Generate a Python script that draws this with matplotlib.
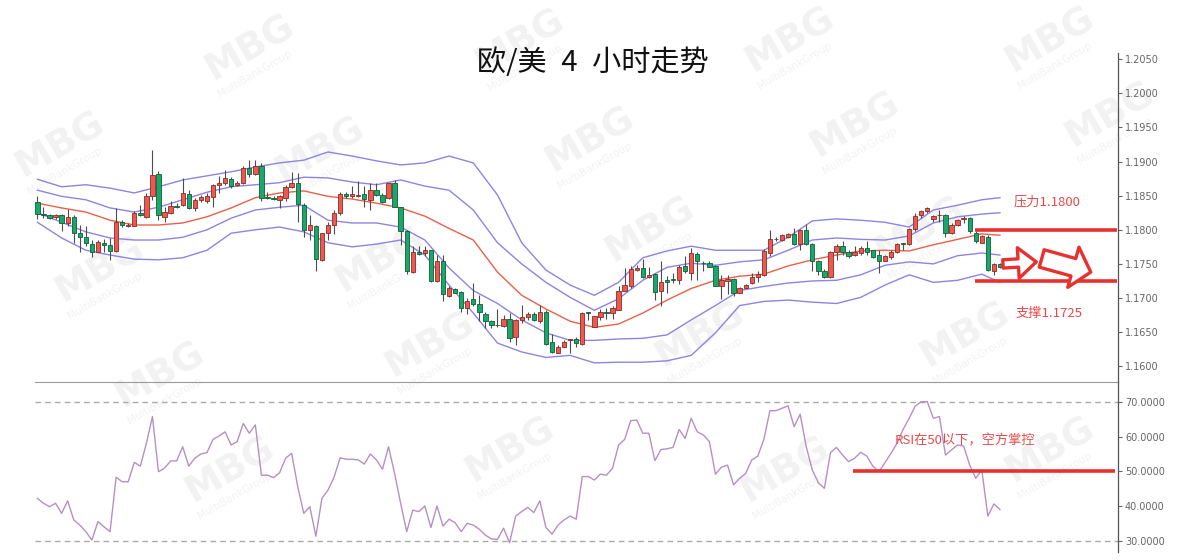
import numpy as np
import matplotlib
matplotlib.use("Agg")
import matplotlib.pyplot as plt

plt.rcParams['font.family'] = ['Noto Sans CJK SC', 'DejaVu Sans']

# EUR/USD 4h candles (open, high, low, close)
opens = [1.1840, 1.1823, 1.1821, 1.1819, 1.1821, 1.1810, 1.1819, 1.1796, 1.1790, 1.1779,
         1.1768, 1.1781, 1.1777, 1.1769, 1.1812, 1.1805, 1.1806, 1.1825, 1.1819, 1.1850,
         1.1881, 1.1819, 1.1825, 1.1835, 1.1836, 1.1853, 1.1832, 1.1843, 1.1842, 1.1848,
         1.1865, 1.1868, 1.1874, 1.1865, 1.1868, 1.1890, 1.1881, 1.1893, 1.1848, 1.1847,
         1.1844, 1.1846, 1.1863, 1.1869, 1.1837, 1.1799, 1.1806, 1.1756, 1.1796, 1.1807,
         1.1824, 1.1853, 1.1849, 1.1850, 1.1852, 1.1844, 1.1859, 1.1851, 1.1846, 1.1868,
         1.1833, 1.1798, 1.1738, 1.1767, 1.1766, 1.1771, 1.1725, 1.1754, 1.1703, 1.1713,
         1.1709, 1.1685, 1.1698, 1.1692, 1.1677, 1.1667, 1.1661, 1.1659, 1.1669, 1.1643,
         1.1668, 1.1672, 1.1677, 1.1666, 1.1680, 1.1635, 1.1620, 1.1629, 1.1639, 1.1640,
         1.1633, 1.1679, 1.1657, 1.1672, 1.1680, 1.1678, 1.1683, 1.1711, 1.1718, 1.1741,
         1.1744, 1.1731, 1.1735, 1.1710, 1.1727, 1.1728, 1.1727, 1.1747, 1.1737, 1.1765,
         1.1752, 1.1751, 1.1747, 1.1718, 1.1725, 1.1728, 1.1708, 1.1715, 1.1722, 1.1731,
         1.1734, 1.1766, 1.1787, 1.1785, 1.1790, 1.1794, 1.1779, 1.1799, 1.1779, 1.1754,
         1.1740, 1.1731, 1.1768, 1.1776, 1.1768, 1.1763, 1.1766, 1.1773, 1.1770, 1.1763,
         1.1755, 1.1760, 1.1767, 1.1780, 1.1779, 1.1801, 1.1821, 1.1828, 1.1816, 1.1821,
         1.1822, 1.1796, 1.1807, 1.1816, 1.1817, 1.1796, 1.1781, 1.1790, 1.1739, 1.1750]
highs = [1.1849, 1.1834, 1.1823, 1.1823, 1.1823, 1.1831, 1.1822, 1.1807, 1.1806, 1.1785,
         1.1785, 1.1786, 1.1788, 1.1832, 1.1815, 1.1810, 1.1827, 1.1837, 1.1854, 1.1917,
         1.1886, 1.1834, 1.1842, 1.1839, 1.1876, 1.1858, 1.1846, 1.1851, 1.1854, 1.1867,
         1.1879, 1.1888, 1.1877, 1.1871, 1.1894, 1.1902, 1.1902, 1.1898, 1.1856, 1.1850,
         1.1851, 1.1865, 1.1885, 1.1883, 1.1839, 1.1822, 1.1807, 1.1796, 1.1812, 1.1829,
         1.1855, 1.1856, 1.1864, 1.1871, 1.1864, 1.1869, 1.1868, 1.1854, 1.1869, 1.1873,
         1.1834, 1.1800, 1.1776, 1.1776, 1.1776, 1.1771, 1.1763, 1.1763, 1.1718, 1.1714,
         1.1710, 1.1700, 1.1722, 1.1705, 1.1680, 1.1668, 1.1684, 1.1675, 1.1678, 1.1669,
         1.1690, 1.1679, 1.1679, 1.1690, 1.1683, 1.1648, 1.1631, 1.1638, 1.1640, 1.1643,
         1.1679, 1.1680, 1.1674, 1.1684, 1.1685, 1.1688, 1.1717, 1.1744, 1.1747, 1.1749,
         1.1757, 1.1746, 1.1737, 1.1755, 1.1732, 1.1736, 1.1749, 1.1761, 1.1773, 1.1767,
         1.1754, 1.1755, 1.1749, 1.1734, 1.1734, 1.1729, 1.1716, 1.1720, 1.1737, 1.1739,
         1.1772, 1.1799, 1.1790, 1.1794, 1.1795, 1.1802, 1.1801, 1.1809, 1.1780, 1.1756,
         1.1742, 1.1769, 1.1779, 1.1783, 1.1771, 1.1776, 1.1776, 1.1783, 1.1771, 1.1771,
         1.1763, 1.1771, 1.1780, 1.1781, 1.1802, 1.1825, 1.1829, 1.1834, 1.1822, 1.1829,
         1.1823, 1.1810, 1.1816, 1.1820, 1.1819, 1.1798, 1.1793, 1.1793, 1.1752, 1.1751]
lows = [1.1816, 1.1817, 1.1816, 1.1816, 1.1798, 1.1806, 1.1780, 1.1768, 1.1776, 1.1760,
        1.1767, 1.1768, 1.1756, 1.1768, 1.1804, 1.1804, 1.1805, 1.1820, 1.1817, 1.1843,
        1.1815, 1.1812, 1.1823, 1.1832, 1.1835, 1.1830, 1.1828, 1.1841, 1.1839, 1.1834,
        1.1854, 1.1865, 1.1861, 1.1864, 1.1867, 1.1878, 1.1880, 1.1842, 1.1845, 1.1844,
        1.1832, 1.1842, 1.1861, 1.1812, 1.1790, 1.1785, 1.1740, 1.1755, 1.1785, 1.1794,
        1.1822, 1.1846, 1.1846, 1.1848, 1.1834, 1.1829, 1.1849, 1.1839, 1.1845, 1.1833,
        1.1778, 1.1735, 1.1736, 1.1763, 1.1761, 1.1724, 1.1724, 1.1695, 1.1702, 1.1707,
        1.1679, 1.1677, 1.1688, 1.1666, 1.1656, 1.1656, 1.1658, 1.1658, 1.1636, 1.1631,
        1.1663, 1.1668, 1.1667, 1.1664, 1.1631, 1.1619, 1.1619, 1.1628, 1.1619, 1.1629,
        1.1631, 1.1668, 1.1657, 1.1668, 1.1670, 1.1670, 1.1682, 1.1710, 1.1714, 1.1740,
        1.1730, 1.1730, 1.1697, 1.1689, 1.1708, 1.1722, 1.1721, 1.1736, 1.1727, 1.1727,
        1.1739, 1.1745, 1.1717, 1.1698, 1.1706, 1.1703, 1.1707, 1.1714, 1.1721, 1.1723,
        1.1733, 1.1761, 1.1783, 1.1783, 1.1788, 1.1778, 1.1770, 1.1778, 1.1739, 1.1734,
        1.1730, 1.1729, 1.1756, 1.1763, 1.1758, 1.1761, 1.1763, 1.1763, 1.1758, 1.1736,
        1.1754, 1.1757, 1.1766, 1.1771, 1.1778, 1.1798, 1.1817, 1.1825, 1.1812, 1.1812,
        1.1790, 1.1794, 1.1806, 1.1810, 1.1795, 1.1780, 1.1780, 1.1740, 1.1734, 1.1744]
closes = [1.1823, 1.1821, 1.1818, 1.1822, 1.1810, 1.1819, 1.1796, 1.1789, 1.1780, 1.1768,
          1.1782, 1.1777, 1.1769, 1.1811, 1.1807, 1.1807, 1.1824, 1.1821, 1.1849, 1.1880,
          1.1821, 1.1826, 1.1835, 1.1834, 1.1854, 1.1832, 1.1844, 1.1848, 1.1850, 1.1865,
          1.1869, 1.1876, 1.1864, 1.1869, 1.1891, 1.1882, 1.1894, 1.1846, 1.1846, 1.1845,
          1.1850, 1.1863, 1.1868, 1.1838, 1.1800, 1.1807, 1.1757, 1.1795, 1.1807, 1.1824,
          1.1853, 1.1850, 1.1852, 1.1851, 1.1845, 1.1858, 1.1851, 1.1840, 1.1868, 1.1834,
          1.1798, 1.1740, 1.1767, 1.1764, 1.1771, 1.1725, 1.1755, 1.1706, 1.1714, 1.1708,
          1.1685, 1.1696, 1.1691, 1.1680, 1.1666, 1.1660, 1.1660, 1.1669, 1.1641, 1.1668,
          1.1672, 1.1677, 1.1668, 1.1680, 1.1633, 1.1621, 1.1629, 1.1635, 1.1640, 1.1634,
          1.1678, 1.1678, 1.1674, 1.1680, 1.1678, 1.1685, 1.1711, 1.1719, 1.1742, 1.1744,
          1.1731, 1.1734, 1.1709, 1.1724, 1.1723, 1.1726, 1.1746, 1.1739, 1.1766, 1.1754,
          1.1751, 1.1746, 1.1718, 1.1727, 1.1728, 1.1708, 1.1714, 1.1719, 1.1731, 1.1735,
          1.1769, 1.1787, 1.1786, 1.1792, 1.1794, 1.1779, 1.1799, 1.1779, 1.1754, 1.1740,
          1.1731, 1.1768, 1.1776, 1.1768, 1.1761, 1.1768, 1.1773, 1.1768, 1.1760, 1.1754,
          1.1761, 1.1768, 1.1779, 1.1779, 1.1801, 1.1820, 1.1828, 1.1832, 1.1820, 1.1822,
          1.1796, 1.1807, 1.1815, 1.1817, 1.1798, 1.1783, 1.1791, 1.1741, 1.1750, 1.1745]

# band lines, read at every 4th candle
band_idx = [0, 4, 8, 12, 16, 20, 24, 28, 32, 36, 40, 44, 48, 52, 56, 60, 64, 68, 72, 76,
            80, 84, 88, 92, 96, 100, 104, 108, 112, 116, 120, 124, 128, 132, 136, 140, 144,
            148, 152, 156, 159]
upper_outer = [1.1874, 1.1863, 1.1866, 1.1861, 1.1854, 1.1863, 1.1873, 1.1879, 1.1885, 1.1892,
               1.1898, 1.1902, 1.1914, 1.1908, 1.1901, 1.1895, 1.1898, 1.1908, 1.1898, 1.1851,
               1.1781, 1.1741, 1.1719, 1.1704, 1.1723, 1.1759, 1.1769, 1.1776, 1.1770, 1.1770,
               1.1770, 1.1789, 1.1813, 1.1816, 1.1814, 1.1811, 1.1804, 1.1829, 1.1836, 1.1844,
               1.1847]
upper_inner = [1.1858, 1.1849, 1.1844, 1.1832, 1.1826, 1.1833, 1.1844, 1.1855, 1.1863, 1.1866,
               1.1869, 1.1877, 1.1876, 1.1870, 1.1866, 1.1873, 1.1864, 1.1858, 1.1829, 1.1781,
               1.1750, 1.1723, 1.1701, 1.1682, 1.1699, 1.1726, 1.1745, 1.1751, 1.1748, 1.1753,
               1.1756, 1.1770, 1.1785, 1.1788, 1.1786, 1.1785, 1.1791, 1.1810, 1.1819, 1.1823,
               1.1825]
middle = [1.1839, 1.1832, 1.1826, 1.1814, 1.1807, 1.1807, 1.1810, 1.1819, 1.1832, 1.1847,
          1.1854, 1.1857, 1.1849, 1.1845, 1.1839, 1.1832, 1.1820, 1.1802, 1.1785, 1.1738,
          1.1704, 1.1684, 1.1666, 1.1657, 1.1662, 1.1678, 1.1697, 1.1714, 1.1726, 1.1732,
          1.1735, 1.1747, 1.1756, 1.1763, 1.1769, 1.1770, 1.1769, 1.1778, 1.1786, 1.1794,
          1.1792]
lower_inner = [1.1825, 1.1811, 1.1797, 1.1788, 1.1785, 1.1785, 1.1789, 1.1800, 1.1817, 1.1829,
               1.1833, 1.1836, 1.1814, 1.1810, 1.1810, 1.1804, 1.1785, 1.1744, 1.1711, 1.1692,
               1.1668, 1.1649, 1.1638, 1.1638, 1.1640, 1.1641, 1.1646, 1.1668, 1.1689, 1.1711,
               1.1717, 1.1722, 1.1725, 1.1726, 1.1734, 1.1748, 1.1753, 1.1750, 1.1762, 1.1766,
               1.1763]
lower_outer = [1.1811, 1.1788, 1.1770, 1.1763, 1.1757, 1.1756, 1.1759, 1.1770, 1.1795, 1.1800,
               1.1804, 1.1797, 1.1781, 1.1775, 1.1779, 1.1785, 1.1763, 1.1719, 1.1678, 1.1634,
               1.1621, 1.1613, 1.1616, 1.1605, 1.1606, 1.1606, 1.1608, 1.1616, 1.1649, 1.1689,
               1.1695, 1.1697, 1.1694, 1.1692, 1.1701, 1.1719, 1.1734, 1.1723, 1.1726, 1.1735,
               1.1723]

rsi = [42.2, 40.8, 39.8, 40.8, 37.9, 41.5, 36.0, 34.5, 32.6, 30.2,
       35.5, 34.0, 32.6, 48.3, 47.0, 47.0, 52.6, 51.5, 58.1, 65.8,
       49.9, 50.9, 53.0, 53.0, 57.1, 51.5, 53.8, 55.0, 55.4, 59.2,
       60.2, 61.4, 57.6, 58.6, 63.8, 61.0, 63.4, 48.9, 48.9, 48.2,
       49.6, 53.8, 55.2, 45.6, 37.9, 39.8, 31.3, 42.2, 44.6, 48.3,
       53.9, 53.5, 53.5, 53.3, 52.1, 55.0, 53.3, 50.6, 57.1, 49.4,
       40.8, 32.6, 38.8, 38.4, 40.0, 33.8, 40.0, 34.2, 36.2, 35.2,
       32.6, 35.0, 34.5, 33.3, 31.6, 30.5, 30.4, 33.6, 29.4, 37.1,
       38.4, 39.6, 38.1, 41.5, 33.8, 31.9, 34.5, 36.0, 37.1, 36.2,
       48.5, 48.5, 47.5, 49.2, 48.9, 50.9, 57.6, 59.2, 64.6, 64.8,
       61.0, 61.0, 53.1, 56.3, 56.5, 56.9, 62.1, 59.5, 65.3, 61.4,
       60.5, 58.6, 49.2, 51.2, 51.8, 46.1, 48.0, 49.4, 53.3, 54.4,
       59.2, 67.5, 67.5, 68.2, 68.9, 62.9, 66.5, 57.1, 50.4, 46.7,
       45.1, 55.4, 56.9, 54.7, 52.8, 53.8, 55.5, 54.4, 51.5, 49.9,
       52.5, 55.2, 58.1, 62.1, 65.3, 68.8, 70.1, 70.1, 65.3, 65.8,
       54.7, 56.2, 57.6, 57.3, 51.8, 48.0, 50.4, 37.1, 40.6, 39.0]

price_ticks = [1.1600, 1.1650, 1.1700, 1.1750, 1.1800, 1.1850, 1.1900, 1.1950, 1.2000, 1.2050]
rsi_ticks = [30, 40, 50, 60, 70]
resistance = 1.1800
support = 1.1725

UP = "#ec5a4f"
DOWN = "#1aa86a"
BAND = "#8d84e4"
MID = "#e9604a"
MARK = "#e8302f"


def draw_watermarks(fig):
    spots = [(250, 48), (520, 42), (790, 40), (1050, 40),
             (60, 145), (320, 150), (590, 140), (855, 125), (1110, 115),
             (100, 270), (380, 260), (650, 230), (920, 230),
             (160, 375), (430, 345), (700, 335), (965, 335),
             (230, 470), (510, 450), (785, 470), (1050, 450)]
    for x, y in spots:
        fig.text(x / 1178, 1 - y / 560, "MBG", fontsize=27, fontweight="bold",
                 color="#f2f2f2", rotation=30, ha="center", va="center",
                 family="DejaVu Sans", zorder=-1)
        fig.text((x + 5) / 1178, 1 - (y + 26) / 560, "MultiBankGroup", fontsize=7.5,
                 color="#f2f2f2", rotation=30, ha="center", va="center",
                 family="DejaVu Sans", zorder=-1)


def main():
    n = len(opens)
    x = np.arange(n)
    o = np.array(opens)
    c = np.array(closes)
    h = np.array(highs)
    l = np.array(lows)
    up = c >= o

    fig = plt.figure(figsize=(11.78, 5.6), dpi=100)
    draw_watermarks(fig)

    left = 35 / 1178
    width = (1118 - 35) / 1178
    ax = fig.add_axes([left, 1 - 382 / 560, width, (382 - 53) / 560])
    ax2 = fig.add_axes([left, 1 - 552 / 560, width, (552 - 382) / 560])
    for a in (ax, ax2):
        a.patch.set_alpha(0)
        a.set_xlim(-0.4, 178.5)
        a.set_xticks([])
        a.yaxis.tick_right()
        a.tick_params(axis="y", direction="out", length=3, width=0.8, color="#666666",
                      labelcolor="#666666", labelsize=7, pad=2)
        for s in ("top", "left"):
            a.spines[s].set_visible(False)
        a.spines["right"].set_color("#555555")
        a.spines["right"].set_linewidth(0.9)
    ax.spines["bottom"].set_color("#9a9a9a")
    ax2.spines["bottom"].set_visible(False)

    # bands
    for band, col in ((upper_outer, BAND), (upper_inner, BAND), (middle, MID),
                      (lower_inner, BAND), (lower_outer, BAND)):
        ax.plot(band_idx, band, color=col, lw=1.0, zorder=2, solid_joinstyle="round")

    # candles
    ax.vlines(x, l, h, color="#4d4d4d", lw=0.8, zorder=3)
    body_bottom = np.minimum(o, c)
    body_height = np.maximum(np.abs(c - o), 0.00003)
    colors = np.where(up, UP, DOWN)
    edges = np.where(up, "#8a2b25", "#0e5e3a")
    ax.bar(x, body_height, bottom=body_bottom, width=0.72, color=colors,
           edgecolor=edges, linewidth=0.6, zorder=4)

    ax.set_ylim(1.1577, 1.2059)
    ax.set_yticks(price_ticks)
    ax.set_yticklabels([f"{t:.4f}" for t in price_ticks], family="DejaVu Sans")

    # support / resistance
    ax.hlines(resistance, 154.9, 178.3, color=MARK, lw=2.6, zorder=5)
    ax.hlines(support, 154.9, 178.3, color=MARK, lw=2.6, zorder=5)
    ax.text(161.2, 1.1841, "压力1.1800", color="#e84a4a", fontsize=9.5, va="center", ha="left")
    ax.text(161.5, 1.1678, "支撑1.1725", color="#e84a4a", fontsize=9.5, va="center", ha="left")

    ax.annotate("", xy=(165.0, 1.1753), xytext=(159.5, 1.1750),
                arrowprops=dict(arrowstyle="simple,head_length=13,head_width=22,tail_width=6",
                                mutation_scale=1, fc="white", ec=MARK, lw=2.4,
                                shrinkA=0, shrinkB=0), zorder=6)
    ax.annotate("", xy=(174.0, 1.1738), xytext=(165.9, 1.1758),
                arrowprops=dict(arrowstyle="simple,head_length=13,head_width=30,tail_width=13",
                                mutation_scale=1, fc="white", ec=MARK, lw=2.4,
                                shrinkA=0, shrinkB=0), zorder=6)

    # RSI panel
    ax2.plot(x, rsi, color="#b88fc4", lw=1.0, zorder=3)
    ax2.axhline(70, color="#aaaaaa", lw=1.0, ls=(0, (4, 3)), zorder=1)
    ax2.axhline(30, color="#aaaaaa", lw=1.0, ls=(0, (4, 3)), zorder=1)
    ax2.hlines(50, 134.7, 178.0, color=MARK, lw=2.6, zorder=5)
    ax2.text(141.6, 58.7, "RSI在50以下，空方掌控", color="#e84a4a", fontsize=9.5,
             va="center", ha="left")
    ax2.set_ylim(26.74, 75.77)
    ax2.set_yticks(rsi_ticks)
    ax2.set_yticklabels([f"{t:.4f}" for t in rsi_ticks], family="DejaVu Sans")

    fig.text(593 / 1178, 1 - 63 / 560, "欧/美\u20024\u2002小时走势", fontsize=21,
             color="#111111", ha="center", va="center")

    fig.savefig("out.png", dpi=100)


if __name__ == "__main__":
    main()
